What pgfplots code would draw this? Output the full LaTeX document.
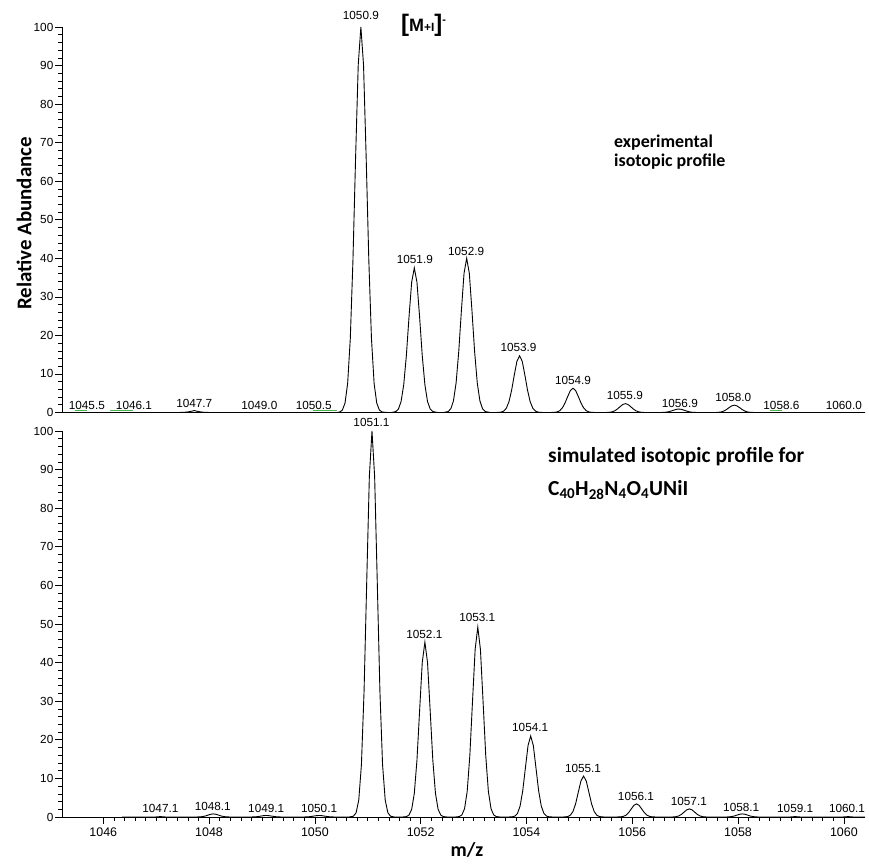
\documentclass[border=0pt]{standalone}
\usepackage{pgfplots}
\pgfplotsset{compat=1.18}
\usepackage{fontspec}
\setmainfont{Liberation Sans}
\newfontfamily\calfont{Carlito}
\definecolor{grn}{RGB}{70,185,70}
\begin{document}
\begin{tikzpicture}
\useasboundingbox (0,0) rectangle (869bp,864bp);
\tikzset{
 lbl/.style={font=\fontsize{11.8}{12}\selectfont, inner sep=0pt},
 data/.style={black, line width=0.9bp},
}
\pgfplotsset{
 every axis/.append style={
  scale only axis, width=803bp,
  xmin=1045.22, xmax=1060.4, ymin=0, ymax=100,
  axis x line*=bottom, axis y line*=left,
  ytick={0,10,...,100}, minor y tick num=4,
  tick align=outside,
  major tick length=7bp, minor tick length=4bp,
  tick label style={font=\fontsize{11.8}{12}\selectfont},
  /pgf/number format/assume math mode=true,
  /pgf/number format/1000 sep={},
  yticklabel style={inner sep=1.5bp},
  clip=false,
  axis line style={line width=0.8bp},
  every tick/.style={line width=0.6bp, black},
 },
}
% ---------------- top: experimental ----------------
\begin{axis}[at={(62bp,451.5bp)}, anchor=south west, height=385.5bp,
  xtick=\empty, x axis line style={line width=1.8bp}]
\addplot[data, mark=none] coordinates {
(1045.22,0) (1047.42,0)
(1047.52,0.04)(1047.57,0.10)(1047.62,0.20)(1047.67,0.33)(1047.72,0.5)(1047.77,0.33)(1047.82,0.20)(1047.87,0.10)(1047.92,0.04)(1048.02,0)
(1050.42,0)
(1050.47,0.13)(1050.52,0.63)(1050.57,2.43)(1050.62,7.56)(1050.67,19.2)(1050.72,39.5)(1050.77,66.1)(1050.82,90.2)(1050.87,100)(1050.92,90.2)(1050.97,66.1)(1051.02,39.5)(1051.07,19.2)(1051.12,7.56)(1051.17,2.43)(1051.22,0.63)(1051.27,0.13)(1051.37,0)
(1051.45,0)
(1051.53,0.24)(1051.58,0.91)(1051.63,2.84)(1051.68,7.2)(1051.73,14.8)(1051.78,24.8)(1051.83,33.8)(1051.88,37.5)(1051.93,33.8)(1051.98,24.8)(1052.03,14.8)(1052.08,7.2)(1052.13,2.84)(1052.18,0.91)(1052.23,0.24)(1052.32,0)
(1052.43,0)
(1052.52,0.25)(1052.57,0.97)(1052.62,3.02)(1052.67,7.68)(1052.72,15.8)(1052.77,26.4)(1052.82,36.1)(1052.87,40)(1052.92,36.1)(1052.97,26.4)(1053.02,15.8)(1053.07,7.68)(1053.12,3.02)(1053.17,0.97)(1053.22,0.25)(1053.31,0)
(1053.43,0)
(1053.52,0.09)(1053.57,0.36)(1053.62,1.11)(1053.67,2.82)(1053.72,5.81)(1053.77,9.72)(1053.82,13.3)(1053.87,14.7)(1053.92,13.3)(1053.97,9.72)(1054.02,5.81)(1054.07,2.82)(1054.12,1.11)(1054.17,0.36)(1054.22,0.09)(1054.3,0)
(1054.45,0)
(1054.53,0.04)(1054.58,0.15)(1054.63,0.48)(1054.68,1.21)(1054.73,2.49)(1054.78,4.16)(1054.83,5.68)(1054.88,6.3)(1054.93,5.68)(1054.98,4.16)(1055.03,2.49)(1055.08,1.21)(1055.13,0.48)(1055.18,0.15)(1055.23,0.04)(1055.3,0)
(1055.45,0)
(1055.52,0.01)(1055.57,0.06)(1055.62,0.17)(1055.67,0.44)(1055.72,0.91)(1055.77,1.52)(1055.82,2.07)(1055.87,2.3)(1055.92,2.07)(1055.97,1.52)(1056.02,0.91)(1056.07,0.44)(1056.12,0.17)(1056.17,0.06)(1056.22,0.01)(1056.3,0)
(1056.53,0)
(1056.58,0.02)(1056.63,0.07)(1056.68,0.17)(1056.73,0.36)(1056.78,0.59)(1056.83,0.81)(1056.88,0.9)(1056.93,0.81)(1056.98,0.59)(1057.03,0.36)(1057.08,0.17)(1057.13,0.07)(1057.18,0.02)(1057.23,0)
(1057.58,0)
(1057.63,0.05)(1057.68,0.14)(1057.73,0.36)(1057.78,0.75)(1057.83,1.26)(1057.88,1.71)(1057.93,1.9)(1057.98,1.71)(1058.03,1.26)(1058.08,0.75)(1058.13,0.36)(1058.18,0.14)(1058.23,0.05)(1058.3,0)
(1060.4,0)
};
\addplot[grn, line width=1bp] coordinates {(1045.47,0.6) (1045.70,0.6)};
\addplot[grn, line width=1bp] coordinates {(1046.13,0.6) (1046.57,0.6)};
\addplot[grn, line width=1bp] coordinates {(1049.96,0.6) (1050.41,0.6)};
\addplot[grn, line width=1bp] coordinates {(1058.60,0.6) (1058.83,0.6)};
\node[lbl] at (axis cs:1045.69,1.95) {1045.5};
\node[lbl] at (axis cs:1046.58,1.95) {1046.1};
\node[lbl] at (axis cs:1047.72,2.46) {1047.7};
\node[lbl] at (axis cs:1048.95,1.95) {1049.0};
\node[lbl] at (axis cs:1049.98,1.95) {1050.5};
\node[lbl] at (axis cs:1050.87,102.9) {1050.9};
\node[lbl] at (axis cs:1051.89,39.6) {1051.9};
\node[lbl] at (axis cs:1052.86,41.9) {1052.9};
\node[lbl] at (axis cs:1053.85,17.0) {1053.9};
\node[lbl] at (axis cs:1054.88,8.2) {1054.9};
\node[lbl] at (axis cs:1055.86,4.3) {1055.9};
\node[lbl] at (axis cs:1056.90,2.46) {1056.9};
\node[lbl] at (axis cs:1057.91,3.8) {1058.0};
\node[lbl] at (axis cs:1058.82,1.95) {1058.6};
\node[lbl] at (axis cs:1060.0,1.95) {1060.0};
\end{axis}
% ---------------- bottom: simulated ----------------
\begin{axis}[at={(62bp,47bp)}, anchor=south west, height=386bp,
  xtick={1046,1048,...,1060}, minor x tick num=9,
  xticklabel style={font=\fontsize{12.5}{13}\selectfont}]
\addplot[data, mark=none] coordinates {
(1046.35,0) (1046.98,0) (1047.08,0.1) (1047.18,0)
(1047.73,0)
(1047.78,0.01)(1047.83,0.04)(1047.88,0.11)(1047.93,0.26)(1047.98,0.49)(1048.03,0.71)(1048.08,0.8)(1048.13,0.71)(1048.18,0.49)(1048.23,0.26)(1048.28,0.11)(1048.33,0.04)(1048.38,0.01)
(1048.78,0)
(1048.83,0.02)(1048.88,0.05)(1048.93,0.13)(1048.98,0.24)(1049.03,0.35)(1049.08,0.4)(1049.13,0.35)(1049.18,0.24)(1049.23,0.13)(1049.28,0.05)(1049.33,0.02)(1049.38,0)
(1049.78,0)
(1049.83,0.02)(1049.88,0.05)(1049.93,0.13)(1049.98,0.24)(1050.03,0.35)(1050.08,0.4)(1050.13,0.35)(1050.18,0.24)(1050.23,0.13)(1050.28,0.05)(1050.33,0.02)(1050.38,0)
(1050.65,0)
(1050.73,0.22)(1050.78,1.11)(1050.83,4.39)(1050.88,13.5)(1050.93,32.5)(1050.98,60.7)(1051.03,88.2)(1051.08,100)(1051.13,88.2)(1051.18,60.7)(1051.23,32.5)(1051.28,13.5)(1051.33,4.39)(1051.38,1.11)(1051.43,0.22)(1051.5,0)
(1051.66,0)
(1051.73,0.1)(1051.78,0.5)(1051.83,1.99)(1051.88,6.12)(1051.93,14.7)(1051.98,27.5)(1052.03,40.0)(1052.08,45.3)(1052.13,40.0)(1052.18,27.5)(1052.23,14.7)(1052.28,6.12)(1052.33,1.99)(1052.38,0.5)(1052.43,0.1)(1052.5,0)
(1052.66,0)
(1052.73,0.11)(1052.78,0.55)(1052.83,2.16)(1052.88,6.64)(1052.93,16.0)(1052.98,29.9)(1053.03,43.4)(1053.08,49.2)(1053.13,43.4)(1053.18,29.9)(1053.23,16.0)(1053.28,6.64)(1053.33,2.16)(1053.38,0.55)(1053.43,0.11)(1053.5,0)
(1053.66,0)
(1053.73,0.05)(1053.78,0.23)(1053.83,0.92)(1053.88,2.84)(1053.93,6.83)(1053.98,12.7)(1054.03,18.5)(1054.08,21)(1054.13,18.5)(1054.18,12.7)(1054.23,6.83)(1054.28,2.84)(1054.33,0.92)(1054.38,0.23)(1054.43,0.05)(1054.5,0)
(1054.66,0)
(1054.73,0.02)(1054.78,0.12)(1054.83,0.47)(1054.88,1.43)(1054.93,3.45)(1054.98,6.43)(1055.03,9.35)(1055.08,10.6)(1055.13,9.35)(1055.18,6.43)(1055.23,3.45)(1055.28,1.43)(1055.33,0.47)(1055.38,0.12)(1055.43,0.02)(1055.5,0)
(1055.7,0)
(1055.78,0.04)(1055.83,0.15)(1055.88,0.46)(1055.93,1.1)(1055.98,2.06)(1056.03,3.0)(1056.08,3.4)(1056.13,3.0)(1056.18,2.06)(1056.23,1.1)(1056.28,0.46)(1056.33,0.15)(1056.38,0.04)(1056.45,0)
(1056.75,0)
(1056.78,0.02)(1056.83,0.09)(1056.88,0.28)(1056.93,0.68)(1056.98,1.27)(1057.03,1.85)(1057.08,2.1)(1057.13,1.85)(1057.18,1.27)(1057.23,0.68)(1057.28,0.28)(1057.33,0.09)(1057.38,0.02)(1057.42,0)
(1057.78,0)
(1057.83,0.04)(1057.88,0.11)(1057.93,0.26)(1057.98,0.49)(1058.03,0.71)(1058.08,0.8)(1058.13,0.71)(1058.18,0.49)(1058.23,0.26)(1058.28,0.11)(1058.33,0.04)(1058.38,0)
(1058.98,0) (1059.08,0.1) (1059.18,0) (1059.98,0) (1060.08,0.1) (1060.18,0) (1060.4,0)
};
\node[lbl] at (axis cs:1051.07,102.3) {1051.1};
\node[lbl] at (axis cs:1052.07,47.4) {1052.1};
\node[lbl] at (axis cs:1053.07,51.6) {1053.1};
\node[lbl] at (axis cs:1054.07,23.1) {1054.1};
\node[lbl] at (axis cs:1055.07,12.7) {1055.1};
\node[lbl] at (axis cs:1056.07,5.2) {1056.1};
\node[lbl] at (axis cs:1057.07,4.1) {1057.1};
\node[lbl] at (axis cs:1058.06,2.6) {1058.1};
\node[lbl] at (axis cs:1059.08,2.1) {1059.1};
\node[lbl] at (axis cs:1060.06,2.1) {1060.1};
\node[lbl] at (axis cs:1047.08,2.3) {1047.1};
\node[lbl] at (axis cs:1048.07,2.8) {1048.1};
\node[lbl] at (axis cs:1049.08,2.3) {1049.1};
\node[lbl] at (axis cs:1050.08,2.3) {1050.1};
\end{axis}
% ---------------- texts ----------------
\node[rotate=90, font=\calfont\bfseries\fontsize{21}{21}\selectfont] at (24bp,640.5bp) {Relative Abundance};
\node[font=\calfont\bfseries\fontsize{20}{20}\selectfont] at (467bp,14bp) {m/z};
\node[anchor=west, font=\calfont\bfseries\fontsize{18}{18}\selectfont, inner sep=0pt] at (614bp,721bp) {experimental};
\node[anchor=west, font=\calfont\bfseries\fontsize{18}{18}\selectfont, inner sep=0pt] at (614bp,702bp) {isotopic profile};
\node[anchor=west, font=\calfont\bfseries\fontsize{21.5}{21.5}\selectfont, inner sep=0pt] at (548bp,407bp) {simulated isotopic profile for};
\node[anchor=west, font=\calfont\bfseries\fontsize{21.5}{21.5}\selectfont, inner sep=0pt] at (548bp,374bp) {C\textsubscript{40}H\textsubscript{28}N\textsubscript{4}O\textsubscript{4}UNiI};
\node[anchor=west, font=\bfseries\fontsize{18}{18}\selectfont, inner sep=0pt] at (401bp,839bp) {{\fontsize{24}{24}\selectfont[}M{\fontsize{12}{12}\selectfont +I}{\fontsize{24}{24}\selectfont]}\raisebox{8bp}{\fontsize{11}{11}\selectfont -}};
\end{tikzpicture}
\end{document}
